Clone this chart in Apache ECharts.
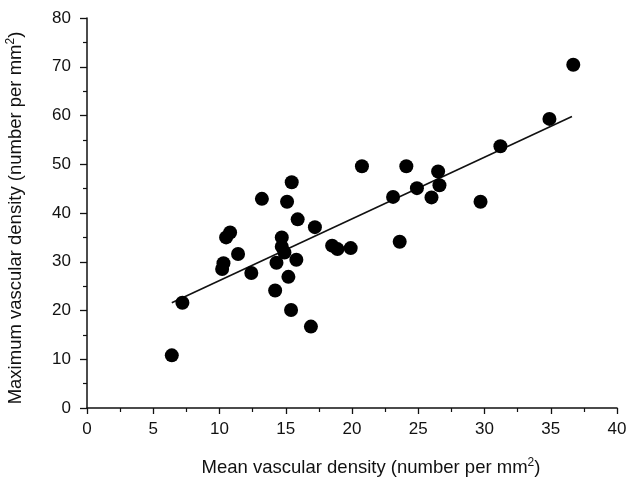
<!DOCTYPE html>
<html>
<head>
<meta charset="utf-8">
<script src="https://cdn.jsdelivr.net/npm/echarts@6/dist/echarts.min.js"></script>
<style>html,body{margin:0;padding:0;background:#fff;}#c{width:631px;height:482px;}</style>
</head>
<body>
<div id="c"></div>
<script>
var meanDensity = [6.4, 7.2, 10.2, 10.3, 10.5, 10.8, 11.4, 12.4, 13.2, 14.2, 14.3, 14.7, 14.7, 14.9, 15.1, 15.2, 15.4, 15.45, 15.8, 15.9, 16.9, 17.2, 18.5, 18.9, 19.9, 20.75, 23.1, 23.6, 24.1, 24.9, 26.0, 26.5, 26.6, 29.7, 31.2, 34.9, 36.7];
var maxDensity  = [10.8, 21.6, 28.5, 29.7, 35.0, 36.0, 31.6, 27.7, 42.9, 24.1, 29.8, 35.0, 33.1, 31.9, 42.3, 26.9, 20.1, 46.3, 30.4, 38.7, 16.7, 37.1, 33.3, 32.6, 32.8, 49.6, 43.3, 34.1, 49.6, 45.1, 43.2, 48.5, 45.7, 42.3, 53.7, 59.3, 70.4];
var fitX = [6.4, 36.6];
var fitY = [21.6, 59.8];
var xTicks = [0, 5, 10, 15, 20, 25, 30, 35, 40];
var yTicks = [0, 10, 20, 30, 40, 50, 60, 70, 80];

var points = meanDensity.map(function (x, i) { return [x, maxDensity[i]]; });
var fitLine = fitX.map(function (x, i) { return [x, fitY[i]]; });
var font = 'Liberation Sans, Arial, Helvetica, sans-serif';
var rich = { sup: { fontSize: 12, verticalAlign: 'top', padding: [0, 0, 9, 0], fontFamily: font, color: '#111' } };

var chart = echarts.init(document.getElementById('c'));
chart.setOption({
  animation: false,
  grid: { left: 87, right: 14, top: 18, bottom: 74, containLabel: false, outerBoundsMode: 'none' },
  xAxis: {
    type: 'value', min: xTicks[0], max: xTicks[xTicks.length - 1], interval: 5,
    name: 'Mean vascular density (number per mm{sup|2})',
    nameLocation: 'middle', nameGap: 49,
    nameTextStyle: { fontFamily: font, fontSize: 18.5, color: '#111', rich: rich, padding: [0, 0, 0, 38] },
    axisLine: { lineStyle: { color: '#111', width: 1.5 } },
    axisTick: { length: 6, lineStyle: { color: '#111', width: 1.3 } },
    minorTick: { show: true, splitNumber: 2, length: 4, lineStyle: { color: '#111', width: 1.2 } },
    splitLine: { show: false },
    axisLabel: { fontFamily: font, fontSize: 17, color: '#111', margin: 13 }
  },
  yAxis: {
    type: 'value', min: yTicks[0], max: yTicks[yTicks.length - 1], interval: 10,
    name: 'Maximum vascular density (number per mm{sup|2})',
    nameLocation: 'middle', nameGap: 61, nameRotate: 90,
    nameTextStyle: { fontFamily: font, fontSize: 18.5, color: '#111', rich: rich, padding: [0, 10, 0, 0] },
    axisLine: { show: true, lineStyle: { color: '#111', width: 1.5 } },
    axisTick: { show: true, length: 7, lineStyle: { color: '#111', width: 1.3 } },
    minorTick: { show: true, splitNumber: 2, length: 4, lineStyle: { color: '#111', width: 1.2 } },
    splitLine: { show: false },
    axisLabel: { fontFamily: font, fontSize: 17, color: '#111', margin: 16 }
  },
  series: [
    {
      type: 'line', data: fitLine, symbol: 'none',
      lineStyle: { color: '#111', width: 1.6 }, z: 2
    },
    {
      type: 'scatter', data: points, symbol: 'circle', symbolSize: 14,
      itemStyle: { color: '#000', opacity: 1 }, z: 3
    }
  ]
});
</script>
</body>
</html>
